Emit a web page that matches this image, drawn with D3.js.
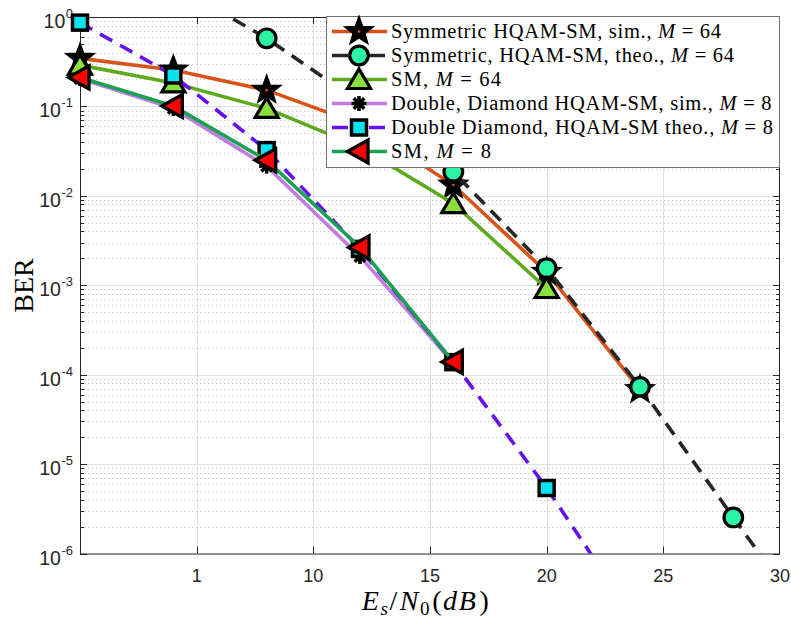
<!DOCTYPE html>
<html>
<head>
<meta charset="utf-8">
<script src="https://cdn.jsdelivr.net/npm/d3@7"></script>
<style>
html,body{margin:0;padding:0;background:#fff;}
svg{display:block;}
</style>
</head>
<body>
<svg id="chart" width="791" height="622"></svg>
<script>
// ---------- data ----------
const sym64SimX  = [0, 4, 8, 12, 16, 20, 24];
const sym64SimY  = [0.345, 0.255, 0.152, 0.063, 0.0132, 0.0014, 0.000068];
const sym64TheoX = [4, 8, 12, 16, 20, 24, 28, 32];
const sym64TheoY = [2.3, 0.578, 0.11, 0.0186, 0.00155, 0.000073, 0.00000253, 0.00000009];
const sm64X      = [0, 4, 8, 12, 16, 20];
const sm64Y      = [0.29, 0.183, 0.095, 0.035, 0.0082, 0.00092];
const dd8SimX    = [0, 4, 8, 12, 16];
const dd8SimY    = [0.205, 0.095, 0.0215, 0.0021, 0.000135];
const dd8TheoX   = [0, 4, 8, 12, 16, 20, 24];
const dd8TheoY   = [0.865, 0.222, 0.0325, 0.00255, 0.000138, 0.0000054, 0.00000015];
const sm8X       = [0, 4, 8, 12, 16];
const sm8Y       = [0.211, 0.101, 0.025, 0.00265, 0.000139];

const xTickVals   = [5, 10, 15, 20, 25, 30];
const xTickLabels = ["1", "10", "15", "20", "25", "30"];
const yTickExps   = [-6, -5, -4, -3, -2, -1, 0];

const legendNames = [
  ["Symmetric HQAM-SM, sim., ", "M", " = 64"],
  ["Symmetric, HQAM-SM, theo., ", "M", " = 64"],
  ["SM, ", "M", " = 64"],
  ["Double, Diamond HQAM-SM, sim., ", "M", " = 8"],
  ["Double Diamond, HQAM-SM theo., ", "M", " = 8"],
  ["SM, ", "M", " = 8"]
];

// ---------- layout ----------
const L = 80, R = 780, T = 17, B = 553.5;
const svg = d3.select("#chart");
const x = d3.scaleLinear().domain([0, 30]).range([L, R]);
const y = d3.scaleLog().domain([1e-6, 1]).range([B, T]);

svg.append("defs").append("clipPath").attr("id", "clip")
  .append("rect").attr("x", L).attr("y", T).attr("width", R - L).attr("height", B - T);

// ---------- grid ----------
const grid = svg.append("g");
const minorVals = [];
for (let e = -6; e < 0; e++) for (let k = 2; k <= 9; k++) minorVals.push(k * Math.pow(10, e));
grid.selectAll(".ymin").data(minorVals).enter().append("line")
  .attr("x1", L).attr("x2", R)
  .attr("y1", d => Math.round(y(d)) + 0.5).attr("y2", d => Math.round(y(d)) + 0.5)
  .attr("stroke", "#c8c8c8").attr("stroke-width", 1).attr("stroke-dasharray", "1.2,2.8");
grid.selectAll(".ymaj").data(yTickExps.slice(1, -1)).enter().append("line")
  .attr("x1", L).attr("x2", R)
  .attr("y1", d => Math.round(y(Math.pow(10, d))) + 0.5).attr("y2", d => Math.round(y(Math.pow(10, d))) + 0.5)
  .attr("stroke", "#e1e1e1").attr("stroke-width", 1);
grid.selectAll(".xmaj").data(xTickVals.slice(0, -1)).enter().append("line")
  .attr("y1", T).attr("y2", B)
  .attr("x1", d => Math.round(x(d)) + 0.5).attr("x2", d => Math.round(x(d)) + 0.5)
  .attr("stroke", "#e1e1e1").attr("stroke-width", 1);

// ---------- axes box & ticks ----------
const ax = svg.append("g").attr("stroke", "#262626").attr("stroke-width", 1);
ax.append("rect").attr("x", L + 0.5).attr("y", T + 0.5).attr("width", R - L - 1).attr("height", B - T)
  .attr("fill", "none");
xTickVals.slice(0, -1).forEach(v => {
  const px = Math.round(x(v)) + 0.5;
  ax.append("line").attr("x1", px).attr("x2", px).attr("y1", B).attr("y2", B - 7);
  ax.append("line").attr("x1", px).attr("x2", px).attr("y1", T).attr("y2", T + 7);
});
yTickExps.forEach(e => {
  const py = Math.round(y(Math.pow(10, e))) + 0.5;
  ax.append("line").attr("x1", L).attr("x2", L + 7).attr("y1", py).attr("y2", py);
  ax.append("line").attr("x1", R).attr("x2", R - 7).attr("y1", py).attr("y2", py);
});
minorVals.forEach(v => {
  const py = Math.round(y(v)) + 0.5;
  ax.append("line").attr("x1", L).attr("x2", L + 4).attr("y1", py).attr("y2", py);
  ax.append("line").attr("x1", R).attr("x2", R - 4).attr("y1", py).attr("y2", py);
});

// tick labels
const tickFont = "'Liberation Sans', Arial, sans-serif";
svg.selectAll(".xtl").data(xTickVals).enter().append("text")
  .attr("x", d => x(d)).attr("y", B + 28)
  .attr("text-anchor", "middle").attr("font-family", tickFont).attr("font-size", 18)
  .attr("fill", "#262626")
  .text((d, i) => xTickLabels[i]);

yTickExps.forEach(e => {
  const py = y(Math.pow(10, e));
  const sup = svg.append("text").attr("x", 73).attr("y", py + 1)
    .attr("text-anchor", "end").attr("font-family", tickFont).attr("font-size", 13)
    .attr("fill", "#262626").text(String(e));
  const w = sup.node().getComputedTextLength();
  svg.append("text").attr("x", 73 - w - 0.5).attr("y", py + 11)
    .attr("text-anchor", "end").attr("font-family", tickFont).attr("font-size", 19.5)
    .attr("fill", "#262626").text("10");
});

// axis labels
const serif = "'Liberation Serif', 'Times New Roman', serif";
svg.append("text").attr("transform", "translate(33,285.5) rotate(-90)")
  .attr("text-anchor", "middle").attr("font-family", serif)
  .attr("font-size", 28).attr("fill", "#000").text("BER");

const xl = svg.append("text").attr("x", 426).attr("y", 610)
  .attr("text-anchor", "middle").attr("letter-spacing", 1.6)
  .attr("font-family", serif).attr("font-size", 28).attr("fill", "#000");
xl.append("tspan").attr("font-style", "italic").text("E");
xl.append("tspan").attr("font-style", "italic").attr("font-size", 19).attr("dy", 5).text("s");
xl.append("tspan").attr("dy", -5).text("/");
xl.append("tspan").attr("font-style", "italic").attr("dx", 1).text("N");
xl.append("tspan").attr("font-size", 19).attr("dy", 5).text("0");
xl.append("tspan").attr("dy", -5).attr("dx", 1).text("(");
xl.append("tspan").attr("font-style", "italic").text("dB");
xl.append("tspan").attr("dx", 2).text(")");

// ---------- markers ----------
function starPath(r1, r2) {
  const pts = [];
  for (let i = 0; i < 10; i++) {
    const r = i % 2 === 0 ? r1 : r2;
    const a = -Math.PI / 2 + i * Math.PI / 5;
    pts.push([r * Math.cos(a), r * Math.sin(a)]);
  }
  return "M" + pts.map(p => p[0].toFixed(2) + "," + p[1].toFixed(2)).join("L") + "Z";
}
function drawMarker(g, type, cx, cy) {
  const m = g.append("g").attr("transform", `translate(${cx},${cy})`);
  if (type === "star") {
    m.append("path").attr("d", starPath(13.5, 5.6)).attr("fill", "#000").attr("stroke", "#000")
      .attr("stroke-width", 2.5).attr("stroke-linejoin", "miter");
    m.append("circle").attr("r", 1.3).attr("fill", "#D95319");
  } else if (type === "circle") {
    m.append("circle").attr("r", 9.3).attr("fill", "#2AF5A6").attr("stroke", "#000").attr("stroke-width", 3.2);
  } else if (type === "tri") {
    m.append("path").attr("d", "M0,-10.5L11.5,9L-11.5,9Z").attr("fill", "#8CE03C").attr("stroke", "#000")
      .attr("stroke-width", 3.2).attr("stroke-linejoin", "miter");
  } else if (type === "ast") {
    const r = 7.5;
    [0, 45, 90, 135].forEach(a => {
      const c = Math.cos(a * Math.PI / 180) * r, s = Math.sin(a * Math.PI / 180) * r;
      m.append("line").attr("x1", -c).attr("y1", -s).attr("x2", c).attr("y2", s)
        .attr("stroke", "#000").attr("stroke-width", 3.5);
    });
    m.append("circle").attr("r", 4.5).attr("fill", "#000");
  } else if (type === "square") {
    m.append("rect").attr("x", -7.5).attr("y", -7.5).attr("width", 15).attr("height", 15)
      .attr("fill", "#00E5F0").attr("stroke", "#000").attr("stroke-width", 3.5);
  } else if (type === "ltri") {
    m.append("path").attr("d", "M-11.5,0L9,-11.5L9,11.5Z").attr("fill", "#FF0000").attr("stroke", "#000")
      .attr("stroke-width", 3.3).attr("stroke-linejoin", "miter");
  }
}

// ---------- series ----------
const series = [
  {xs: sym64SimX,  ys: sym64SimY,  color: "#D95319", dash: null,   marker: "star"},
  {xs: sym64TheoX, ys: sym64TheoY, color: "#262626", dash: "14,9", marker: "circle"},
  {xs: sm64X,      ys: sm64Y,      color: "#5EAA1E", dash: null,   marker: "tri"},
  {xs: dd8SimX,    ys: dd8SimY,    color: "#C07CDE", dash: null,   marker: "ast"},
  {xs: dd8TheoX,   ys: dd8TheoY,   color: "#6410F0", dash: "14,9", marker: "square"},
  {xs: sm8X,       ys: sm8Y,       color: "#1AA152", dash: null,   marker: "ltri"}
];

const lineGen = d3.line().x(d => x(d[0])).y(d => y(d[1]));
series.forEach(s => {
  const pts = s.xs.map((v, i) => [v, s.ys[i]]);
  const g = svg.append("g");
  g.append("path").attr("d", lineGen(pts)).attr("clip-path", "url(#clip)")
    .attr("fill", "none").attr("stroke", s.color).attr("stroke-width", 3.6)
    .attr("stroke-dasharray", s.dash);
  pts.filter(p => p[0] >= 0 && p[0] <= 30 && p[1] >= 1e-6 && p[1] <= 1)
    .forEach(p => drawMarker(g, s.marker, x(p[0]), y(p[1])));
});

// ---------- legend ----------
const lg = svg.append("g");
lg.append("rect").attr("x", 326.5).attr("y", 16.5).attr("width", 453).attr("height", 151)
  .attr("fill", "#fff").attr("stroke", "#707070").attr("stroke-width", 1);
const textEnds = [721, 734, 501, 771.5, 773, 491];
series.forEach((s, i) => {
  const cy = 31.5 + i * 24;
  lg.append("line").attr("x1", 332).attr("x2", 387).attr("y1", cy).attr("y2", cy)
    .attr("stroke", s.color).attr("stroke-width", 3.6)
    .attr("stroke-dasharray", s.dash ? "16,21" : null);
  drawMarker(lg, s.marker, 359, cy);
  const t = lg.append("text").attr("x", 391).attr("y", cy + 6.5)
    .attr("font-family", serif)
    .attr("font-size", 20.5).attr("fill", "#000")
    .attr("textLength", textEnds[i] - 391).attr("lengthAdjust", "spacing");
  t.append("tspan").text(legendNames[i][0]);
  t.append("tspan").attr("font-style", "italic").text(legendNames[i][1]);
  t.append("tspan").text(legendNames[i][2]);
});
</script>
</body>
</html>
